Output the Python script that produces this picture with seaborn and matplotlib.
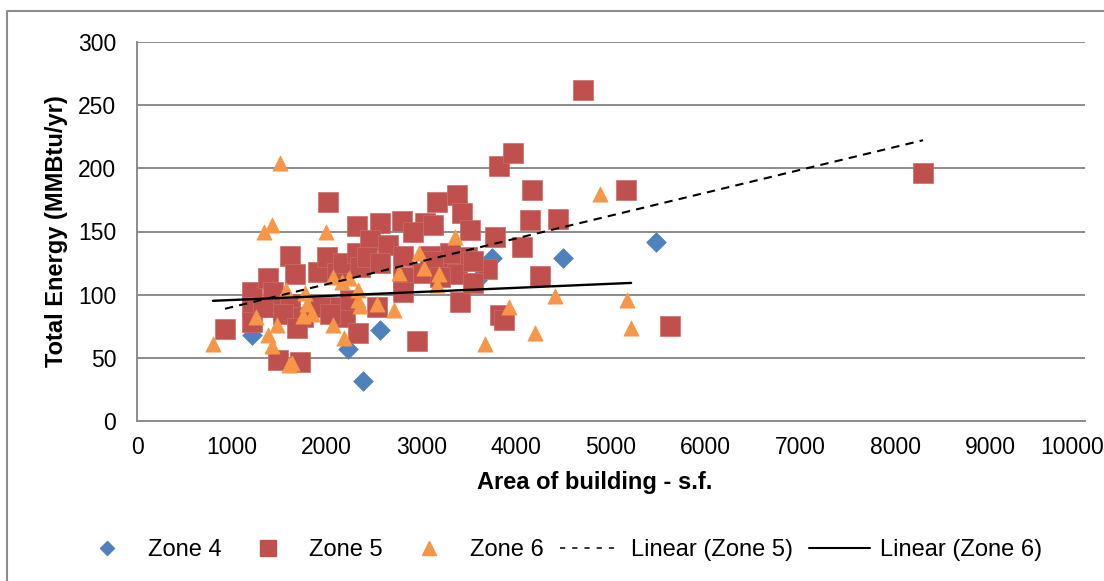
import numpy as np
import pandas as pd
import matplotlib
matplotlib.use("Agg")
import matplotlib.pyplot as plt
import matplotlib.transforms as mtransforms
from matplotlib.lines import Line2D
import seaborn as sns

# datos (area en s.f., energia en MMBtu/yr)
zone4_area = [1213, 2226, 2384, 2564, 3587, 3745, 4494, 5476]
zone4_energy = [68, 57, 32, 72, 112, 129, 129, 142]

zone5_area = [928, 1213, 1213, 1213, 1382, 1435, 1435, 1614, 1667, 1614,
              1751, 1488, 1720, 1910, 2004, 2015, 2110, 2173, 2142, 2194,
              2321, 2353, 2321, 2331, 2564, 2458, 2648, 2427, 2564, 2796,
              3038, 3165, 3376, 3429, 3513, 3777, 2907, 2806, 3017, 3271,
              3482, 3693, 3376, 3408, 3545, 2806, 3830, 2532, 2954, 3819,
              3967, 4167, 5159, 4146, 4442, 4062, 4252, 5623, 3872, 4705,
              8292, 2806, 3091, 3302, 3545, 3123, 3197, 3123,
              1330, 1540, 1688, 1930, 2036, 2250]
zone5_energy = [73, 102, 90, 78, 113, 102, 90, 131, 116, 93,
                82, 48, 47, 118, 130, 173, 117, 125, 90, 82,
                133, 122, 154, 70, 157, 143, 139, 130, 125, 158,
                157, 173, 179, 165, 151, 146, 150, 114, 117, 130,
                130, 120, 116, 94, 109, 102, 84, 90, 63, 202,
                212, 183, 183, 159, 160, 138, 115, 75, 80, 262,
                196, 131, 131, 133, 127, 127, 114, 155,
                90, 85, 74, 90, 85, 96]

zone6_area = [801, 1255, 1340, 1424, 1509, 1382, 1424, 1477, 1604, 1640,
              1572, 1772, 1794, 1751, 1846, 1994, 2068, 2163, 2237, 2068,
              2184, 2332, 2353, 2332, 2532, 2711, 3355, 2975, 3028, 2764,
              3186, 3165, 3671, 3925, 4410, 4885, 5170, 5212, 4199]
zone6_energy = [61, 82, 150, 155, 204, 68, 59, 76, 44, 46,
                104, 101, 93, 83, 85, 150, 114, 110, 113, 76,
                66, 104, 91, 96, 93, 88, 146, 133, 121, 117,
                116, 108, 61, 90, 99, 180, 96, 74, 70]

zones = ["Zone 4", "Zone 5", "Zone 6"]
colores = {"Zone 4": "#4F81BD", "Zone 5": "#C0504D", "Zone 6": "#F79646"}
bordes = {"Zone 4": "#4F81BD", "Zone 5": "#CB6C6A", "Zone 6": "#F79646"}
marcadores = {"Zone 4": "D", "Zone 5": "s", "Zone 6": "^"}
tamanos = {"Zone 4": 100, "Zone 5": 205, "Zone 6": 120}

df = pd.concat([
    pd.DataFrame({"area": zone4_area, "energia": zone4_energy, "zona": "Zone 4"}),
    pd.DataFrame({"area": zone5_area, "energia": zone5_energy, "zona": "Zone 5"}),
    pd.DataFrame({"area": zone6_area, "energia": zone6_energy, "zona": "Zone 6"}),
], ignore_index=True)

sns.set_style("white")
plt.rcParams["font.family"] = ["Liberation Sans", "DejaVu Sans"]
plt.rcParams["text.color"] = "black"
plt.rcParams["axes.labelcolor"] = "black"
plt.rcParams["xtick.color"] = "black"
plt.rcParams["ytick.color"] = "black"

gris = "#8C8C8C"
fig = plt.figure(figsize=(11.04, 5.81), dpi=100)
ax = fig.add_axes([137 / 1104, 1 - 421 / 581, (1085 - 137) / 1104, (421 - 42) / 581])

for z in zones:
    d = df[df["zona"] == z]
    sns.scatterplot(data=d, x="area", y="energia", marker=marcadores[z],
                    color=colores[z], s=tamanos[z], edgecolor=bordes[z],
                    linewidth=0.5, ax=ax, legend=False, zorder=3)

# lineas de tendencia (regresion lineal)
sns.regplot(data=df[df["zona"] == "Zone 5"], x="area", y="energia", scatter=False,
            ci=None, truncate=True, ax=ax,
            line_kws=dict(color="black", lw=1.5, ls=(0, (4, 3)), zorder=4))
sns.regplot(data=df[df["zona"] == "Zone 6"], x="area", y="energia", scatter=False,
            ci=None, truncate=True, ax=ax,
            line_kws=dict(color="black", lw=1.7, zorder=4))

ax.set_xlim(0, 10000)
ax.set_ylim(0, 300)
ax.set_xticks(np.arange(0, 10001, 1000))
ax.set_yticks(np.arange(0, 301, 50))
ax.yaxis.grid(True, color=gris, lw=1.4)
ax.xaxis.grid(False)
ax.set_axisbelow(True)
for lado in ["top", "right"]:
    ax.spines[lado].set_visible(False)
for lado in ["left", "bottom"]:
    ax.spines[lado].set_color(gris)
    ax.spines[lado].set_linewidth(1.4)
ax.tick_params(axis="both", which="major", direction="out", length=5,
               width=1.3, color=gris, labelsize=16.5)
ax.tick_params(axis="x", pad=6)
ax.tick_params(axis="y", pad=10)

# la ultima etiqueta se corre un poco a la izquierda, como en Excel
ultima = ax.get_xticklabels()[-1]
ultima.set_transform(mtransforms.offset_copy(ultima.get_transform(), fig=fig,
                                             x=-13, y=0, units="dots"))

ax.set_xlabel("Area of building - s.f.", fontsize=17, fontweight="bold")
ax.set_ylabel("Total Energy (MMBtu/yr)", fontsize=17, fontweight="bold")
ax.xaxis.label.set_verticalalignment("center")
ax.yaxis.label.set_verticalalignment("center")
ax.xaxis.set_label_coords((595 - 137) / 948, (421 - 482) / 379)
ax.yaxis.set_label_coords((57 - 137) / 948, 0.5)

# leyenda
handles = [
    Line2D([], [], ls="none", marker="D", color=colores["Zone 4"], markersize=7.6),
    Line2D([], [], ls="none", marker="s", color=colores["Zone 5"], markersize=11),
    Line2D([], [], ls="none", marker="^", color=colores["Zone 6"], markersize=10.5),
    Line2D([], [], color="black", lw=1.1, ls=(0, (3.4, 4.6))),
    Line2D([], [], color="black", lw=1.5),
]
etiquetas = ["Zone 4", "Zone 5", "Zone 6", "Linear (Zone 5)", "Linear (Zone 6)"]
fig.legend(handles, etiquetas, loc="center", bbox_to_anchor=(0.507, 1 - 550 / 581),
           ncol=5, frameon=False, fontsize=17, handlelength=2.55,
           handletextpad=0.45, columnspacing=0.7)

# borde del area del grafico (solo se ven el lado izquierdo y el de arriba)
fig.add_artist(Line2D([7 / 1104, 7 / 1104, 1.0], [0.0, 1 - 11 / 581, 1 - 11 / 581],
                      transform=fig.transFigure, color=gris, lw=1.5))

fig.savefig("out.png", dpi=100)
